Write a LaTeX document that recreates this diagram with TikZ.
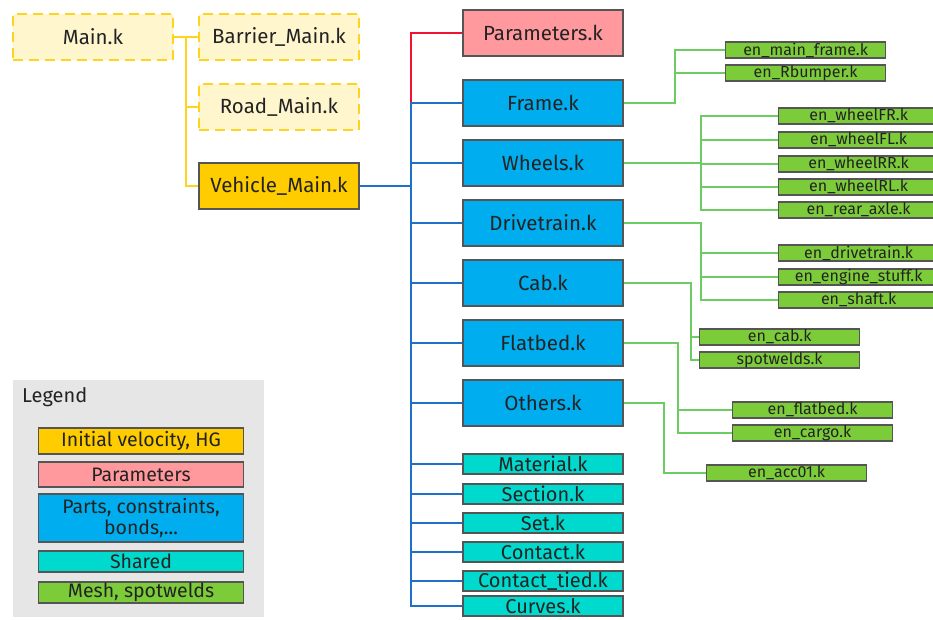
\documentclass[tikz,border=0pt]{standalone}
\usepackage{fontspec}
\setmainfont{Fira Sans}
\usepackage{xcolor}
\definecolor{gold}{RGB}{255,204,0}
\definecolor{paleyel}{RGB}{255,246,206}
\definecolor{dashyel}{RGB}{255,212,30}
\definecolor{parpink}{RGB}{255,153,158}
\definecolor{partblue}{RGB}{0,174,239}
\definecolor{sharedc}{RGB}{0,217,206}
\definecolor{meshgreen}{RGB}{124,204,58}
\definecolor{linkgreen}{RGB}{110,204,100}
\definecolor{linkblue}{RGB}{30,112,200}
\definecolor{linkred}{RGB}{240,20,50}
\definecolor{edgegray}{RGB}{85,85,85}
\definecolor{txt}{RGB}{35,35,35}
\definecolor{legendbg}{RGB}{230,230,230}
\tikzset{
  box/.style={draw=edgegray,line width=1.2pt,inner sep=0pt,text=txt,align=center},
  big/.style={box,minimum width=160pt,minimum height=46pt,font=\fontsize{20.5}{23}\selectfont},
  dashbox/.style={big,draw=dashyel,line width=2.5pt,dash pattern=on 10pt off 6pt,fill=paleyel},
  small/.style={box,minimum width=160pt,minimum height=20pt,fill=sharedc,font=\fontsize{20}{21}\selectfont},
  mesh/.style={box,minimum width=160pt,minimum height=16pt,fill=meshgreen,font=\fontsize{16}{16}\selectfont},
  key/.style={box,minimum width=205pt,font=\fontsize{19.5}{21}\selectfont},
  ylink/.style={dashyel,line width=2.8pt},
  blink/.style={linkblue,line width=2.8pt},
  rlink/.style={linkred,line width=2.8pt},
  glink/.style={linkgreen,line width=2.8pt}
}
\newcommand{\partnode}[3]{\node[big,fill=partblue] (#1) at (543,#2) {#3};}
\newcommand{\sharednode}[3]{\node[small] (#1) at (543,#2) {#3};}
\newcommand{\meshnode}[4]{\node[mesh,anchor=west] (#1) at (#2,#3) {#4};}

\begin{document}
\begin{tikzpicture}[x=1pt,y=-1pt]
  \useasboundingbox (0,0) rectangle (933,619);
  % legend
  \node[fill=legendbg,minimum width=251pt,minimum height=237pt,inner sep=0pt] (legend) at (138.5,498.5) {};
  \node[anchor=west,text=txt,font=\fontsize{20}{22}\selectfont,inner sep=0pt] (legtitle) at (22,397) {Legend};
  \node[key,fill=gold,minimum height=26pt] (k1) at (141,441) {Initial velocity, HG};
  \node[key,fill=parpink,minimum height=25pt] (k2) at (141,474.5) {Parameters};
  \node[key,fill=partblue,minimum height=48pt] (k3) at (141,518) {Parts, constraints,\\bonds,...};
  \node[key,fill=sharedc,minimum height=21pt] (k4) at (141,561.5) {Shared};
  \node[key,fill=meshgreen,minimum height=21pt] (k5) at (141,592.5) {Mesh, spotwelds};
  % main files
  \node[dashbox] (main) at (93,37) {Main.k};
  \node[dashbox] (barrier) at (279,37) {Barrier\_Main.k};
  \node[dashbox] (road) at (279,107) {Road\_Main.k};
  \node[big,fill=gold] (vehicle) at (279,186) {Vehicle\_Main.k};
  \coordinate (ybus) at (186,37);
  \draw[ylink] (main.east) -- (barrier.west);
  \draw[ylink] (ybus) |- (road.west);
  \draw[ylink] (ybus) |- (vehicle.west);
  % vehicle includes
  \node[big,fill=parpink] (params) at (543,33) {Parameters.k};
  \partnode{frame}{103}{Frame.k}
  \partnode{wheels}{163}{Wheels.k}
  \partnode{drive}{223}{Drivetrain.k}
  \partnode{cab}{283}{Cab.k}
  \partnode{flatbed}{343}{Flatbed.k}
  \partnode{others}{403}{Others.k}
  \sharednode{material}{464}{Material.k}
  \sharednode{section}{494}{Section.k}
  \sharednode{set}{523}{Set.k}
  \sharednode{contact}{552}{Contact.k}
  \sharednode{tied}{581}{Contact\_tied.k}
  \sharednode{curves}{606}{Curves.k}
  \coordinate (bbus) at (411,103);
  \draw[rlink] (params.west) -| (bbus);
  \draw[blink] (vehicle.east) -- (vehicle.east -| bbus);
  \foreach \n in {frame,wheels,drive,cab,flatbed,others,material,section,set,contact,tied,curves}
    \draw[blink] (\n.west) -| (bbus);
  % mesh files
  \meshnode{mainframe}{725}{50}{en\_main\_frame.k}
  \meshnode{rbumper}{725}{73}{en\_Rbumper.k}
  \meshnode{wfr}{778}{116}{en\_wheelFR.k}
  \meshnode{wfl}{778}{140}{en\_wheelFL.k}
  \meshnode{wrr}{778}{164}{en\_wheelRR.k}
  \meshnode{wrl}{778}{187}{en\_wheelRL.k}
  \meshnode{axle}{778}{210}{en\_rear\_axle.k}
  \meshnode{endrive}{778}{253}{en\_drivetrain.k}
  \meshnode{engine}{778}{277}{en\_engine\_stuff.k}
  \meshnode{shaft}{778}{300}{en\_shaft.k}
  \meshnode{encab}{699}{337}{en\_cab.k}
  \meshnode{spot}{699}{360}{spotwelds.k}
  \meshnode{enflat}{732}{410}{en\_flatbed.k}
  \meshnode{cargo}{732}{433}{en\_cargo.k}
  \meshnode{acc}{706}{473}{en\_acc01.k}
  \coordinate (fx) at (675,0);
  \coordinate (wx) at (701,0);
  \coordinate (cx) at (691,0);
  \coordinate (tx) at (678,0);
  \coordinate (ox) at (664,0);
  \foreach \t in {mainframe,rbumper}
    \draw[glink] (frame.east) -| (fx |- \t.west) -- (\t.west);
  \foreach \t in {wfr,wfl,wrr,wrl,axle}
    \draw[glink] (wheels.east) -| (wx |- \t.west) -- (\t.west);
  \foreach \t in {endrive,engine,shaft}
    \draw[glink] (drive.east) -| (wx |- \t.west) -- (\t.west);
  \foreach \t in {encab,spot}
    \draw[glink] (cab.east) -| (cx |- \t.west) -- (\t.west);
  \foreach \t in {enflat,cargo}
    \draw[glink] (flatbed.east) -| (tx |- \t.west) -- (\t.west);
  \draw[glink] (others.east) -| (ox |- acc.west) -- (acc.west);
\end{tikzpicture}
\end{document}
